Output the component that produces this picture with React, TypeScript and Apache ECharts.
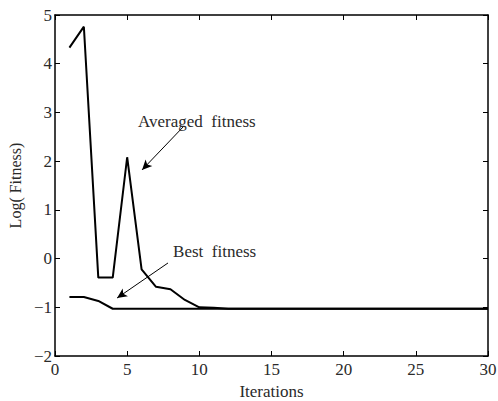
import React, { useEffect, useRef } from "react";
import * as echarts from "echarts";

const iterations = [1, 2, 3, 4, 5, 6, 7, 8, 9, 10, 11, 12, 13, 14, 15, 16, 17, 18, 19, 20, 21, 22, 23, 24, 25, 26, 27, 28, 29, 30];
const averagedFitness = [4.33, 4.76, -0.39, -0.39, 2.08, -0.22, -0.58, -0.63, -0.85, -1.0, -1.01, -1.03, -1.03, -1.03, -1.03, -1.03, -1.03, -1.03, -1.03, -1.03, -1.03, -1.03, -1.03, -1.03, -1.03, -1.03, -1.03, -1.03, -1.03, -1.03];
const bestFitness = [-0.79, -0.79, -0.87, -1.03, -1.03, -1.03, -1.03, -1.03, -1.03, -1.03, -1.03, -1.03, -1.03, -1.03, -1.03, -1.03, -1.03, -1.03, -1.03, -1.03, -1.03, -1.03, -1.03, -1.03, -1.03, -1.03, -1.03, -1.03, -1.03, -1.03];
const xTicks = [0, 5, 10, 15, 20, 25, 30];
const yTicks = [-2, -1, 0, 1, 2, 3, 4, 5];

const FONT = "Liberation Serif";
const TXT = "#2a2a2a";

export default function App() {
  const ref = useRef<HTMLDivElement>(null);
  useEffect(() => {
    if (!ref.current) return;
    const chart = echarts.init(ref.current, null, { renderer: "svg" });
    const axisCommon = {
      type: "value" as const,
      axisLine: { show: true, onZero: false, lineStyle: { color: "#000", width: 1.5 } },
      axisTick: { show: true, inside: true, length: 5, lineStyle: { color: "#000", width: 1 } },
      splitLine: { show: false },
    };
    const toPair = (a: number[]) => iterations.map((x, i) => [x, a[i]]);
    chart.setOption({
      animation: false,
      backgroundColor: "#fff",
      textStyle: { fontFamily: FONT },
      grid: { left: 55, right: 10, top: 15, bottom: 45, containLabel: false, outerBoundsMode: "none" },
      xAxis: [
        {
          ...axisCommon,
          min: xTicks[0],
          max: xTicks[xTicks.length - 1],
          interval: 5,
          position: "bottom",
          axisLabel: { color: TXT, fontFamily: FONT, fontSize: 17, margin: 5 },
          name: "Iterations",
          nameLocation: "middle",
          nameGap: 25,
          nameTextStyle: { color: TXT, fontFamily: FONT, fontSize: 17 },
        },
        {
          ...axisCommon,
          min: xTicks[0],
          max: xTicks[xTicks.length - 1],
          interval: 5,
          position: "top",
          axisLabel: { show: false },
        },
      ],
      yAxis: [
        {
          ...axisCommon,
          min: yTicks[0],
          max: yTicks[yTicks.length - 1],
          interval: 1,
          position: "left",
          axisLabel: {
            color: TXT,
            fontFamily: FONT,
            fontSize: 17,
            margin: 3,
            formatter: (v: number) => (v < 0 ? "\u2212" + Math.abs(v) : String(v)),
          },
          name: "Log( Fitness)",
          nameLocation: "middle",
          nameGap: 31,
          nameTextStyle: { color: TXT, fontFamily: FONT, fontSize: 16 },
        },
        {
          ...axisCommon,
          min: yTicks[0],
          max: yTicks[yTicks.length - 1],
          interval: 1,
          position: "right",
          axisLabel: { show: false },
        },
      ],
      series: [
        {
          type: "line",
          name: "Averaged fitness",
          data: toPair(averagedFitness),
          showSymbol: false,
          symbol: "none",
          lineStyle: { color: "#000", width: 2 },
          markLine: {
            silent: true,
            symbol: ["none", "arrow"],
            symbolSize: [7, 10],
            lineStyle: { color: "#000", width: 1, type: "solid" },
            label: { show: false },
            data: [[{ coord: [8.87, 2.7] }, { coord: [6.03, 1.82] }]],
          },
          markPoint: {
            silent: true,
            symbol: "rect",
            symbolSize: 0,
            data: [
              {
                coord: [5.75, 2.82],
                label: {
                  show: true,
                  formatter: "Averaged  fitness",
                  position: "right",
                  distance: 0,
                  color: TXT,
                  fontFamily: FONT,
                  fontSize: 17,
                },
              },
            ],
          },
        },
        {
          type: "line",
          name: "Best fitness",
          data: toPair(bestFitness),
          showSymbol: false,
          symbol: "none",
          lineStyle: { color: "#000", width: 2 },
          markLine: {
            silent: true,
            symbol: ["none", "arrow"],
            symbolSize: [7, 10],
            lineStyle: { color: "#000", width: 1, type: "solid" },
            label: { show: false },
            data: [[{ coord: [7.83, -0.09] }, { coord: [4.3, -0.81] }]],
          },
          markPoint: {
            silent: true,
            symbol: "rect",
            symbolSize: 0,
            data: [
              {
                coord: [8.18, 0.15],
                label: {
                  show: true,
                  formatter: "Best  fitness",
                  position: "right",
                  distance: 0,
                  color: TXT,
                  fontFamily: FONT,
                  fontSize: 17,
                },
              },
            ],
          },
        },
      ],
    });
    return () => chart.dispose();
  }, []);
  return <div ref={ref} style={{ width: 498, height: 401, position: "absolute", left: 0, top: 0 }} />;
}
